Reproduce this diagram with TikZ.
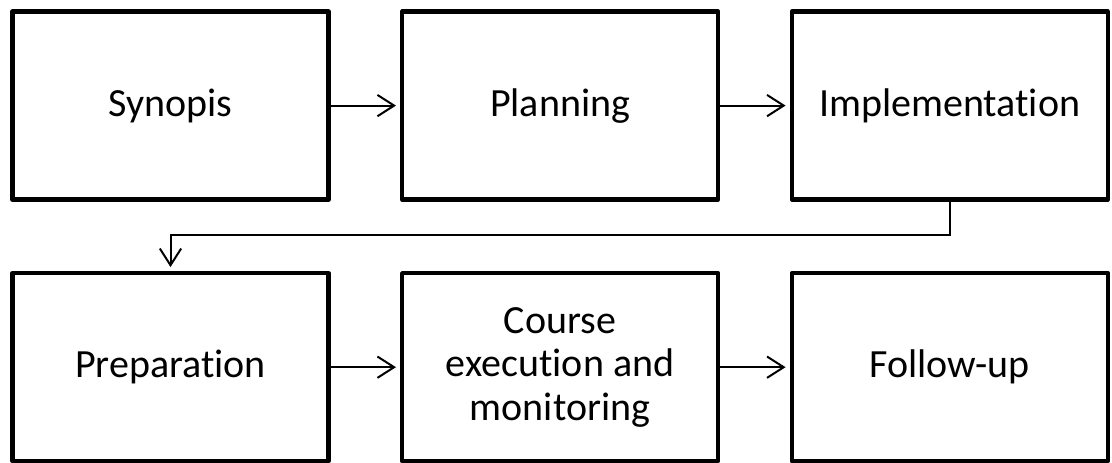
\documentclass[tikz,border=0pt]{standalone}
\usepackage{fontspec}
\setmainfont{Carlito}[Ligatures=NoCommon]
\usepackage{tikz}
\usetikzlibrary{arrows.meta,positioning}
\definecolor{flowink}{HTML}{000000}

\begin{document}
\begin{tikzpicture}[x=0.75pt,y=-0.75pt,
    node distance=52pt and 52pt,
    stagebox/.style={draw=flowink,line width=3.2pt,line join=round,
      minimum width=237pt,minimum height=141pt,align=center,
      font=\fontsize{30}{32.5}\selectfont},
    flow/.style={-{Straight Barb[length=12.5pt,width=16pt]},flowink,line width=1.5pt,shorten >=3pt}]
  \useasboundingbox (0,0) rectangle (1112,463);
  % top row
  \node[stagebox] (synopsis) at (170.5,105.6) {Synopis};
  \node[stagebox,right=of synopsis] (planning) {Planning};
  \node[stagebox,right=of planning] (impl) {Implementation};
  % bottom row
  \node[stagebox,below=of synopsis] (prep) {Preparation};
  \node[stagebox,right=of prep] (exec) {Course\\execution and\\monitoring};
  \node[stagebox,right=of exec] (follow) {Follow-up};
  % connectors
  \draw[flow] (synopsis) -- (planning);
  \draw[flow] (planning) -- (impl);
  \draw[flow] (impl.south) -- ++(0,-25pt) -| (prep.north);
  \draw[flow] (prep) -- (exec);
  \draw[flow] (exec) -- (follow);
\end{tikzpicture}
\end{document}
